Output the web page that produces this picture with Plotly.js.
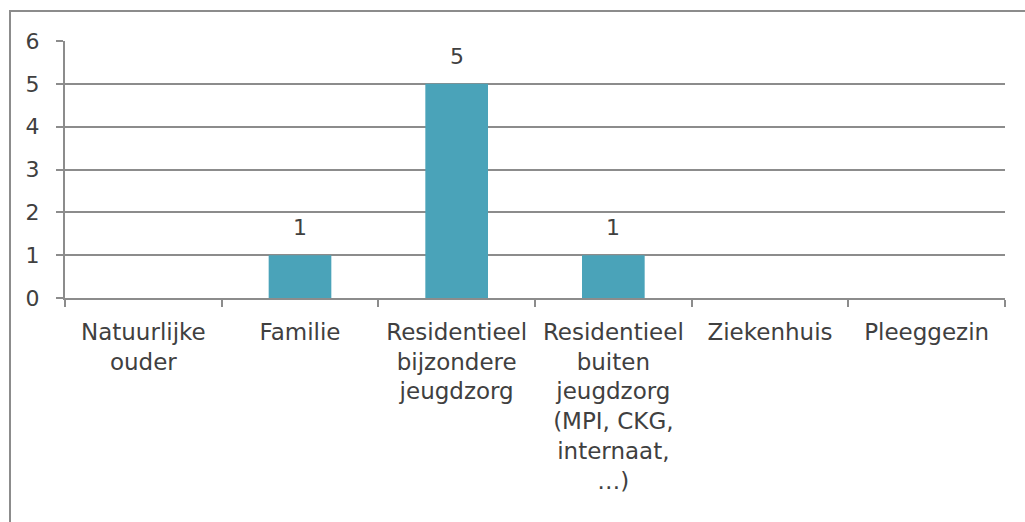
<!DOCTYPE html>
<html>
<head>
<meta charset="utf-8">
<script src="https://cdn.plot.ly/plotly-3.0.1.min.js"></script>
<style>
body { margin: 0; overflow: hidden; background: #fff; }
#frame {
    position: absolute; left: 9px; top: 10px;
    width: 1030px; height: 530px;
    border-left: 2px solid #8c8c8c; border-top: 2px solid #8c8c8c;
}
#myDiv { width: 1014px; height: 510px; }
</style>
</head>
<body>
<div id="frame"><div id="myDiv"></div></div>
<script>
var categories = [
    "Natuurlijke<br>ouder",
    "Familie",
    "Residentieel<br>bijzondere<br>jeugdzorg",
    "Residentieel<br>buiten<br>jeugdzorg<br>(MPI, CKG,<br>internaat,<br>…)",
    "Ziekenhuis",
    "Pleeggezin"
];
var counts = [0, 1, 5, 1, 0, 0];
var yTicks = [0, 1, 2, 3, 4, 5, 6];

var textColor = "#404040";
var lineColor = "#8c8c8c";
var fontName = "DejaVu Sans, sans-serif";

var bars = {
    x: categories,
    y: counts,
    type: "bar",
    marker: {
        color: "#4aa3b9",
        line: { width: 0 }
    },
    hoverinfo: "x+y"
};

// value labels above the non-empty bars
var labels = [];
for (var i = 0; i < categories.length; i++) {
    if (counts[i] > 0) {
        labels.push({
            x: categories[i],
            y: counts[i],
            xref: "x",
            yref: "y",
            text: String(counts[i]),
            showarrow: false,
            yanchor: "bottom",
            yshift: 13,
            font: { family: fontName, size: 22, color: textColor }
        });
    }
}

var layout = {
    width: 1014,
    height: 510,
    margin: { l: 54, r: 20, t: 29, b: 224 },
    paper_bgcolor: "rgba(0,0,0,0)",
    plot_bgcolor: "#ffffff",
    bargap: 0.6,
    showlegend: false,
    font: { family: fontName, size: 22, color: textColor },
    xaxis: {
        type: "category",
        tickson: "boundaries",
        ticks: "outside",
        ticklen: 7,
        tickwidth: 2,
        tickcolor: lineColor,
        showline: true,
        linecolor: lineColor,
        linewidth: 2,
        showgrid: false,
        zeroline: false,
        ticklabelstandoff: 12,
        tickangle: 0,
        tickfont: { family: fontName, size: 23, color: textColor }
    },
    yaxis: {
        range: [0, 6],
        tickvals: yTicks,
        ticktext: yTicks.map(String),
        ticks: "outside",
        ticklen: 7,
        tickwidth: 2,
        tickcolor: lineColor,
        showline: true,
        linecolor: lineColor,
        linewidth: 2,
        showgrid: true,
        gridcolor: lineColor,
        gridwidth: 2,
        zeroline: false,
        ticklabelstandoff: 12,
        tickfont: { family: fontName, size: 22, color: textColor }
    },
    annotations: labels
};

Plotly.newPlot("myDiv", [bars], layout, { displayModeBar: false, staticPlot: true });
</script>
</body>
</html>
